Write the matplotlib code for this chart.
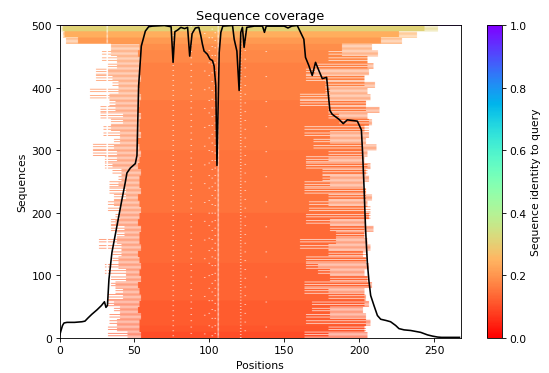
import numpy as np
import matplotlib
matplotlib.use("Agg")
import matplotlib.pyplot as plt

# MSA size
n_seq = 500
seq_len = 268
band_rows = 10
n_lower = 47  # bands below the wide top block

# identity to query for each band of 10 sequences (bottom -> top)
band_identity = [0.10, 0.11, 0.12, 0.12, 0.12, 0.12, 0.13, 0.13, 0.13, 0.13,
                 0.13, 0.13, 0.14, 0.14, 0.14, 0.14, 0.14, 0.14, 0.14, 0.14,
                 0.15, 0.15, 0.15, 0.15, 0.15, 0.15, 0.15, 0.15, 0.15, 0.15,
                 0.16, 0.16, 0.16, 0.16, 0.16, 0.16, 0.16, 0.16, 0.17, 0.17,
                 0.17, 0.17, 0.17, 0.17, 0.18, 0.18, 0.19, 0.21, 0.24, 0.31]

# aligned span of each band: even rows (a) and odd rows (b)
left_a = [54, 53, 53, 54, 52, 53, 54, 53, 52, 54,
          53, 54, 53, 52, 54, 53, 53, 54, 52, 53,
          54, 53, 52, 54, 53, 53, 54, 52, 53, 54,
          53, 52, 54, 53, 53, 54, 52, 53, 54, 53,
          52, 54, 53, 53, 54, 52, 53, 4, 2, 1]
left_b = [45, 31, 38, 33, 40, 36, 32, 42, 37, 34,
          44, 30, 39, 35, 41, 26, 38, 43, 34, 37,
          40, 32, 36, 44, 33, 39, 41, 35, 30, 38,
          22, 36, 40, 29, 34, 42, 27, 37, 33, 20,
          39, 35, 24, 31, 38, 28, 34, 12, 3, 2]
right_a = [205, 203, 207, 204, 202, 206, 204, 203, 208, 205,
           203, 206, 204, 202, 207, 205, 203, 209, 204, 206,
           203, 205, 208, 204, 202, 206, 204, 207, 203, 205,
           211, 204, 206, 203, 208, 205, 213, 204, 207, 205,
           210, 203, 206, 209, 205, 212, 208, 228, 238, 252]
right_b = [163, 179, 204, 164, 180, 168, 203, 179, 163, 206,
           180, 172, 164, 205, 179, 160, 184, 203, 180, 164,
           207, 166, 179, 204, 163, 180, 175, 205, 164, 179,
           202, 169, 180, 163, 206, 186, 179, 204, 160, 180,
           177, 203, 164, 170, 205, 179, 188, 214, 226, 243]

# columns with gaps and how often a sequence has a gap there
gap_cols = [31, 75, 87, 96, 99, 101, 103, 105, 120, 123, 137]
gap_step = [2, 8, 10, 30, 20, 14, 12, 2, 5, 14, 40]

# coverage line (number of sequences per position)
cov_x = [0, 1, 2, 3, 5, 10, 15, 17, 19, 21.6, 25, 28, 30, 31, 32, 33, 35, 38.4,
         41.7, 43.9, 45, 47.3, 50.6, 51.7, 52.8, 54.6, 57.3, 59.5, 62, 70, 74.5,
         75.8, 77, 79, 81, 83.5, 85.5, 86.9, 88.5, 90.7, 93, 94.3, 95.4, 96.5,
         98.7, 100.5, 102.1, 103.2, 104.3, 105.1, 106.6, 107.7, 109, 115.5,
         116.6, 118.4, 119.9, 121, 122.1, 123.2, 125, 130, 135.5, 136.8, 138,
         150, 152.5, 155, 158.7, 160.9, 163.1, 164.2, 166.4, 168.7, 170.9,
         173.1, 175.4, 178.3, 179.2, 180.5, 182, 186.5, 189.4, 192.1, 198.8,
         201.5, 202.3, 203.2, 204.3, 205.5, 206.6, 207.7, 209.9, 212.2, 214.4,
         218, 221, 224.4, 226.6, 230, 234.4, 241.1, 245.6, 249, 252.4, 255, 267]
cov_y = [3, 12, 20, 24, 25, 25, 26, 27, 32, 38, 45, 52, 58, 49, 52, 94, 137, 180,
         222, 249, 264, 272, 279, 292, 403, 467, 491, 498, 499, 500, 498,
         441, 490, 493, 497, 495, 497, 451, 487, 496, 497, 484, 470, 459,
         454, 446, 444, 435, 404, 276, 457, 489, 499, 500,
         478, 459, 396, 489, 497, 465, 497, 499, 499, 489, 499,
         499, 496, 499, 500, 489, 478, 449, 436, 420, 441,
         428, 415, 417, 395, 364, 358, 350, 343, 349, 347,
         333, 297, 246, 174, 120, 90, 68, 52, 36, 30,
         28, 26, 20, 15, 13, 12, 9, 5, 3, 1.5, 1, 1]

# build the MSA identity image
img = np.full((n_seq, seq_len), np.nan)
for b in range(len(band_identity)):
    for r in range(b * band_rows, (b + 1) * band_rows):
        if r % 2 == 0:
            img[r, left_a[b]:right_a[b]] = band_identity[b]
        else:
            # in the lower block, every other tail row takes the next band's span
            t = b
            if b < n_lower and r % 4 == 3:
                t = min(b + 1, n_lower - 1)
            img[r, left_b[t]:right_b[t]] = band_identity[b]
img[n_seq - 1, :] = 1.0  # query sequence
for c, step in zip(gap_cols, gap_step):
    img[c % step:n_seq - 1:step, c] = np.nan

cmap = plt.get_cmap("rainbow_r").copy()
cmap.set_bad("white")

dpi = 77
fig = plt.figure(figsize=(549 / dpi, 374 / dpi), dpi=dpi)
ax = fig.add_axes([0.1084, 0.0936, 0.7313, 0.8356])
cax = fig.add_axes([0.887, 0.0936, 0.0273, 0.8356])

im = ax.imshow(img, aspect="auto", cmap=cmap, vmin=0, vmax=1,
               origin="lower", extent=(0, seq_len, 0, n_seq),
               interpolation="antialiased", interpolation_stage="rgba")
ax.plot(cov_x, cov_y, color="black")
ax.set_xlim(0, seq_len)
ax.set_ylim(0, n_seq)
ax.set_title("Sequence coverage")
ax.set_xlabel("Positions")
ax.set_ylabel("Sequences")

cb = fig.colorbar(im, cax=cax)
cb.set_label("Sequence identity to query")

fig.savefig("out.png", dpi=dpi)
